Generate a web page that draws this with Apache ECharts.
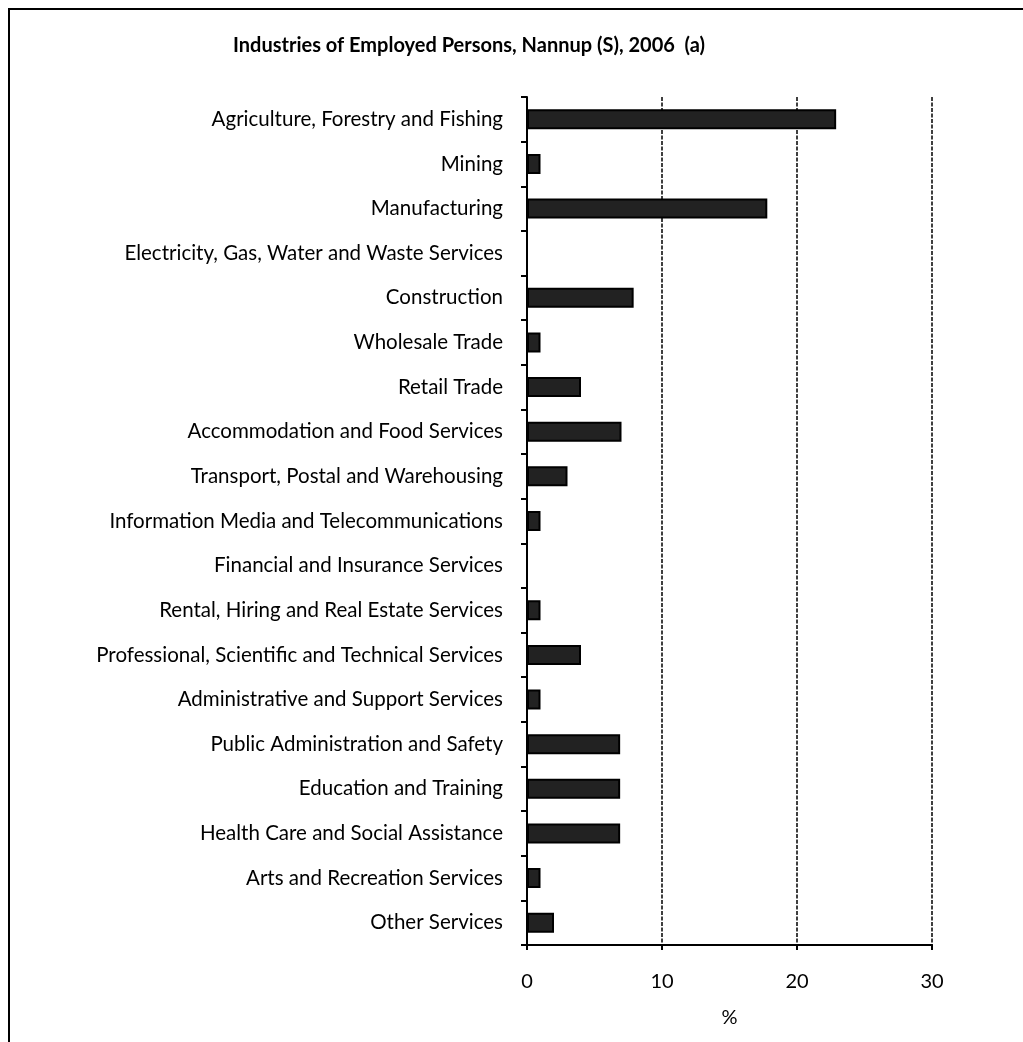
<!DOCTYPE html>
<html><head><meta charset="utf-8">
<script src="https://cdn.jsdelivr.net/npm/echarts@6/dist/echarts.min.js"></script>
<style>html,body{margin:0;padding:0;background:#fff}#c{width:1023px;height:1042px}</style>
</head><body><div id="c"></div>
<script>
const categories = [
  "Agriculture, Forestry and Fishing","Mining","Manufacturing","Electricity, Gas, Water and Waste Services",
  "Construction","Wholesale Trade","Retail Trade","Accommodation and Food Services",
  "Transport, Postal and Warehousing","Information Media and Telecommunications","Financial and Insurance Services",
  "Rental, Hiring and Real Estate Services","Professional, Scientific and Technical Services",
  "Administrative and Support Services","Public Administration and Safety","Education and Training",
  "Health Care and Social Assistance","Arts and Recreation Services","Other Services"
];
const values = [22.9, 1.0, 17.8, 0, 7.9, 1.0, 4.0, 7.0, 3.0, 1.0, 0, 1.0, 4.0, 1.0, 6.9, 6.9, 6.9, 1.0, 2.0];
const xTicks = [0, 10, 20, 30];
const titleText = "Industries of Employed Persons, Nannup (S), 2006  (a)";
const xName = "%";

const chart = echarts.init(document.getElementById('c'));
chart.setOption({
  animation: false,
  backgroundColor: '#fff',
  title: {
    text: titleText, left: 464, top: 31, textAlign: 'center',
    textStyle: { fontFamily: 'Lato', fontWeight: 'bold', fontSize: 20, color: '#000' }
  },
  graphic: [{
    type: 'rect', shape: { x: 9, y: 9, width: 1200, height: 1200 },
    style: { fill: 'none', stroke: '#000', lineWidth: 2 }, silent: true
  }],
  grid: { left: 527, right: 91, top: 97, bottom: 97, containLabel: false },
  xAxis: {
    type: 'value', min: xTicks[0], max: xTicks[xTicks.length - 1], interval: 10,
    name: xName, nameLocation: 'middle', nameGap: 63,
    nameTextStyle: { fontFamily: 'Lato', fontSize: 20, color: '#000' },
    axisLine: { show: true, lineStyle: { color: '#000', width: 2 } },
    axisTick: { show: true, length: 5, lineStyle: { color: '#000', width: 2 } },
    axisLabel: { fontFamily: 'Lato', fontSize: 20, color: '#000', margin: 27 },
    splitLine: { show: true, lineStyle: { color: '#000', type: [4, 1.5], width: 1.5 } }
  },
  yAxis: {
    type: 'category', data: categories, inverse: true,
    axisLine: { show: true, lineStyle: { color: '#000', width: 2 } },
    axisTick: { show: true, length: 6, inside: false, lineStyle: { color: '#000', width: 2 } },
    axisLabel: { fontFamily: 'Lato', fontSize: 20.5, color: '#000', margin: 24 },
    splitLine: { show: false }
  },
  series: [{
    type: 'bar', data: values, barWidth: 20,
    itemStyle: { color: '#222', borderColor: '#000', borderWidth: 2 }
  }]
});
</script></body></html>
